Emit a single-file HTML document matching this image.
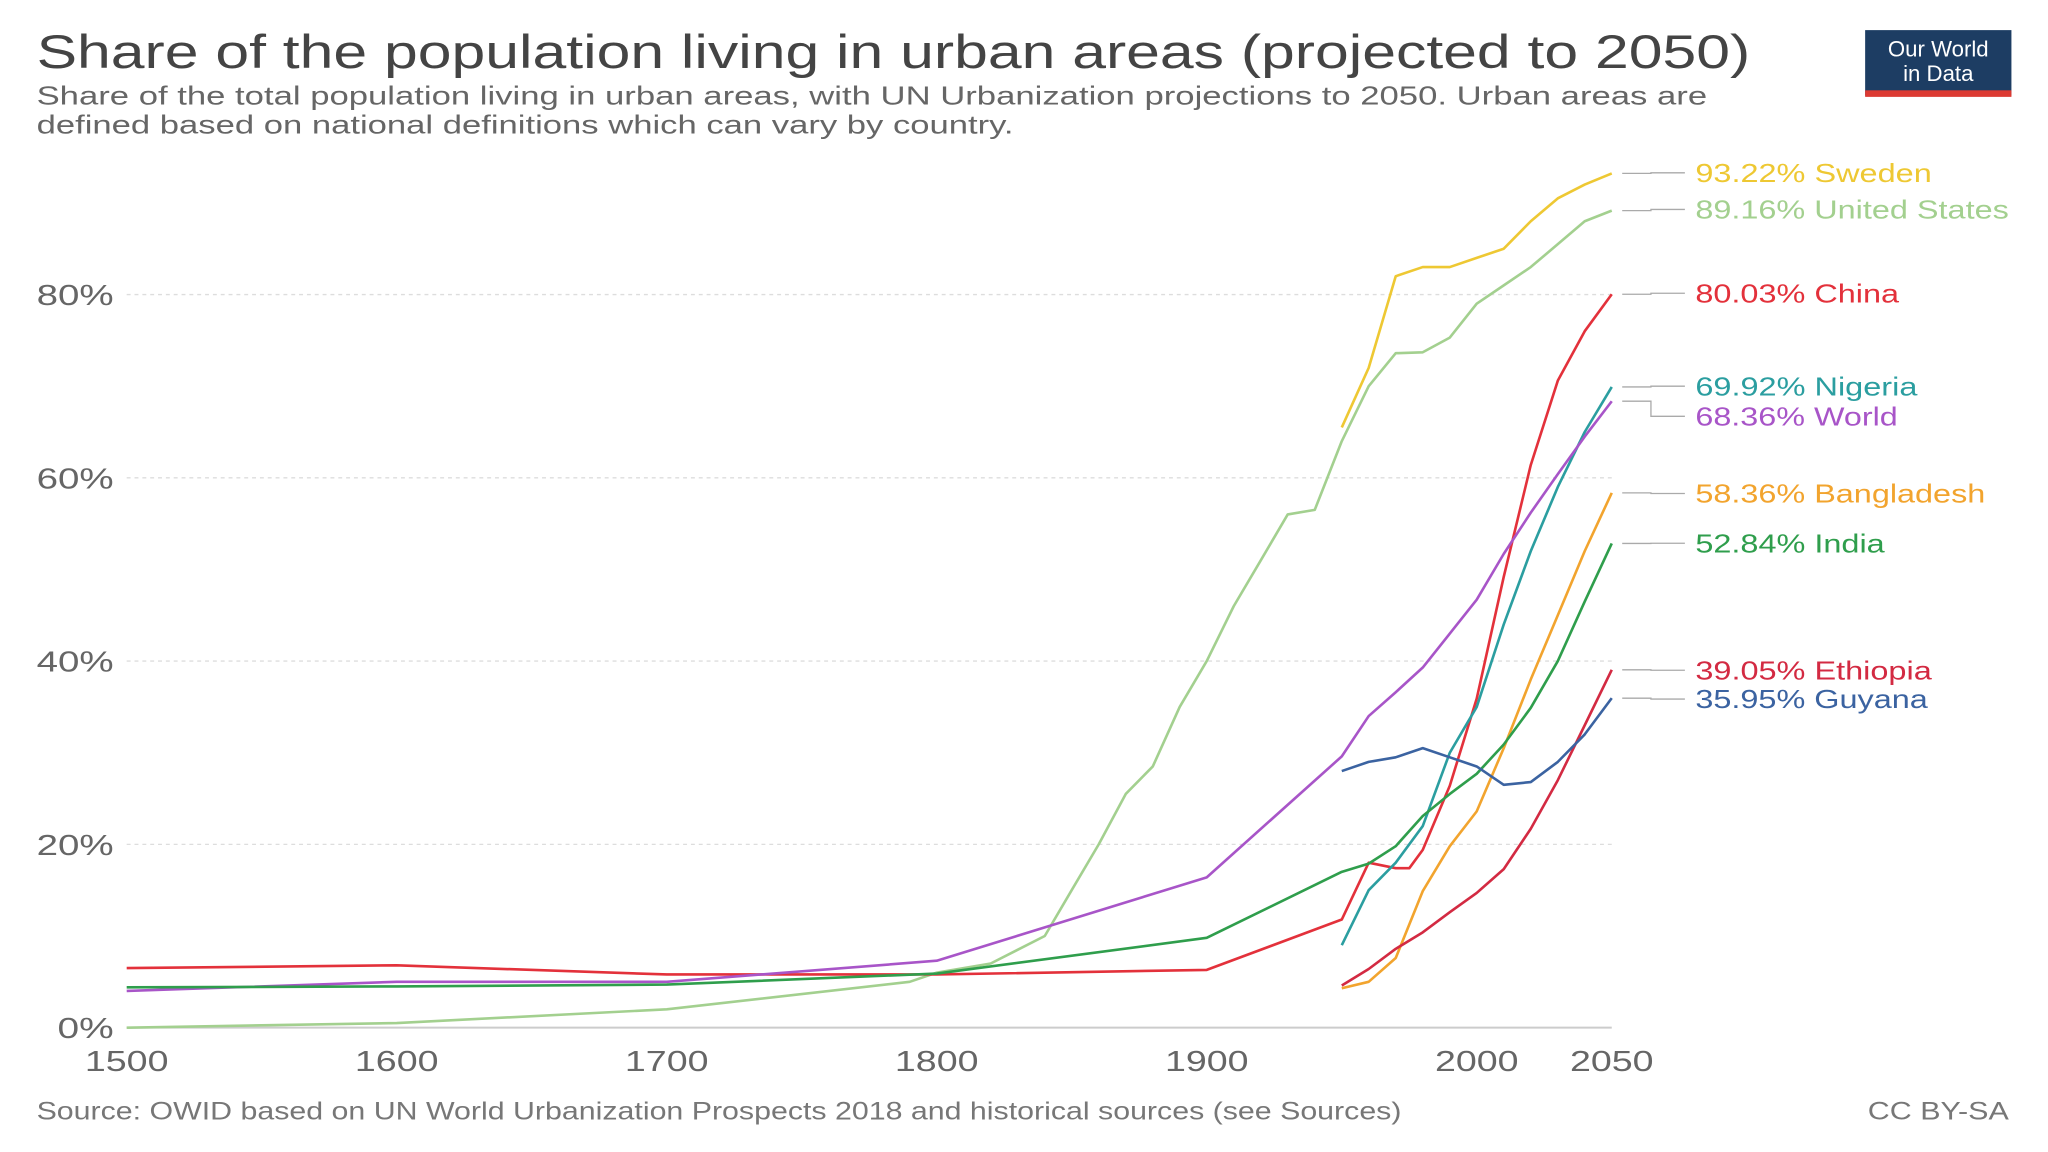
<!DOCTYPE html>
<html><head><meta charset="utf-8"><style>
html,body{margin:0;padding:0;background:#fff;}
svg{display:block;font-family:"Liberation Sans",sans-serif;}
</style></head><body>
<svg id="chart" width="2048" height="1152" viewBox="0 0 1568 880" preserveAspectRatio="none" xmlns="http://www.w3.org/2000/svg">
<rect width="1568" height="880" fill="#fff"/>
<text x="28" y="52" font-size="36" fill="#444" textLength="1312" lengthAdjust="spacingAndGlyphs">Share of the population living in urban areas (projected to 2050)</text>
<text x="28" y="80" font-size="20" fill="#666" textLength="1279" lengthAdjust="spacingAndGlyphs">Share of the total population living in urban areas, with UN Urbanization projections to 2050. Urban areas are</text>
<text x="28" y="102" font-size="20" fill="#666" textLength="748" lengthAdjust="spacingAndGlyphs">defined based on national definitions which can vary by country.</text>
<g>
<rect x="1428" y="23" width="112" height="50" fill="#1d3d63"/>
<rect x="1428" y="69" width="112" height="5" fill="#dc3a33"/>
<text x="1484" y="43" font-size="17" fill="#fff" text-anchor="middle">Our World</text>
<text x="1484" y="62" font-size="17" fill="#fff" text-anchor="middle">in Data</text>
</g>
<g id="grid"></g><g id="axes"></g><g id="series"></g><g id="labels"></g>
<text x="28" y="855" font-size="19" fill="#777" textLength="1045" lengthAdjust="spacingAndGlyphs">Source: OWID based on UN World Urbanization Prospects 2018 and historical sources (see Sources)</text>
<text x="1430" y="855" font-size="19" fill="#777" textLength="108" lengthAdjust="spacingAndGlyphs">CC BY-SA</text>
</svg>
<script>
const yTicks=[0,20,40,60,80];
const xTicks=[1500,1600,1700,1800,1900,2000,2050];
const names=["Sweden","United States","China","Nigeria","World","Bangladesh","India","Ethiopia","Guyana"];
const colors=["#eec833","#a3d08f","#e3313b","#2b9ea0","#a855c8","#f2a42e","#2f9e4c","#d32a42","#3b63a1"];
const labelY=[132,160,224,295,318,377,415,512,534];
const labelW=[181,240,156,170,155,222,145,181,178];
const swedenYears=[1950,1960,1970,1980,1990,2000,2010,2020,2030,2040,2050];
const swedenVals=[65.5,72,82,83,83,84,85,88,90.5,92,93.22];
const usYears=[1500,1600,1700,1790,1800,1820,1840,1850,1860,1870,1880,1890,1900,1910,1920,1930,1940,1950,1960,1970,1980,1990,2000,2010,2020,2030,2040,2050];
const usVals=[0,0.5,2,5,6,7,10,15,20,25.5,28.5,35,40,46,51,56,56.5,64,70,73.6,73.7,75.3,79,81,83,85.5,88,89.16];
const chinaYears=[1500,1600,1700,1800,1900,1950,1960,1970,1975,1980,1990,2000,2010,2020,2030,2040,2050];
const chinaVals=[6.5,6.8,5.8,5.8,6.3,11.8,18,17.4,17.4,19.4,26.4,35.9,49.2,61.4,70.6,76,80.03];
const nigeriaYears=[1950,1960,1970,1980,1990,2000,2010,2020,2030,2040,2050];
const nigeriaVals=[9,15,18,22,30,35,44,52,59,65,69.92];
const worldYears=[1500,1600,1700,1800,1900,1950,1960,1970,1980,1990,2000,2010,2020,2030,2040,2050];
const worldVals=[4,5,5,7.3,16.4,29.6,34,36.6,39.3,43,46.7,51.7,56.2,60.4,64.5,68.36];
const bangYears=[1950,1960,1970,1980,1990,2000,2010,2020,2030,2040,2050];
const bangVals=[4.3,5,7.6,14.9,19.8,23.6,30.5,38,45,52,58.36];
const indiaYears=[1500,1600,1700,1800,1900,1950,1960,1970,1980,1990,2000,2010,2020,2030,2040,2050];
const indiaVals=[4.4,4.5,4.7,5.9,9.8,17,17.9,19.8,23.1,25.5,27.7,30.9,34.9,40,46.5,52.84];
const ethYears=[1950,1960,1970,1980,1990,2000,2010,2020,2030,2040,2050];
const ethVals=[4.6,6.4,8.6,10.4,12.6,14.7,17.3,21.7,27,33,39.05];
const guyYears=[1950,1960,1970,1980,1990,2000,2010,2020,2030,2040,2050];
const guyVals=[28,29,29.5,30.5,29.5,28.5,26.5,26.8,29,32,35.95];
const allYears=[swedenYears,usYears,chinaYears,nigeriaYears,worldYears,bangYears,indiaYears,ethYears,guyYears];
const allVals=[swedenVals,usVals,chinaVals,nigeriaVals,worldVals,bangVals,indiaVals,ethVals,guyVals];

const NS="http://www.w3.org/2000/svg";
const X=y=>97+(y-1500)*(1234-97)/550;
const Y=v=>785-v*7;
function mk(tag,attrs,parent){const e=document.createElementNS(NS,tag);for(const k in attrs)e.setAttribute(k,attrs[k]);parent.appendChild(e);return e;}
const grid=document.getElementById('grid'),axes=document.getElementById('axes'),series=document.getElementById('series'),labels=document.getElementById('labels');
yTicks.forEach(t=>{
  if(t>0){const l=mk('line',{x1:97,x2:1234,y1:Y(t),y2:Y(t),stroke:'#ddd','stroke-dasharray':'3,3'},grid);
  
  }
  const w=t===0?43:59;
  const tx=mk('text',{x:87-w,y:Y(t)+8,'font-size':22,fill:'#666',textLength:w,lengthAdjust:'spacingAndGlyphs'},axes);tx.textContent=t+'%';
  
  
});
const ax=mk('line',{x1:97,x2:1234,y1:Y(0),y2:Y(0),stroke:'#ccc','stroke-width':1.5},axes);


xTicks.forEach(t=>{
  const tx=mk('text',{x:X(t)-32,y:818,'font-size':22,fill:'#666',textLength:64,lengthAdjust:'spacingAndGlyphs'},axes);tx.textContent=t;
  
  
});
names.forEach((n,i)=>{
  const ys=allYears[i],vs=allVals[i];
  const d=ys.map((y,j)=>(j?'L':'M')+X(y).toFixed(1)+','+Y(vs[j]).toFixed(1)).join(' ');
  const p=mk('path',{d:d,fill:'none',stroke:colors[i],'stroke-width':2,'stroke-linejoin':'round'},series);
  
  
  const last=vs[vs.length-1],ly=labelY[i],ey=Y(last);
  const c=mk('path',{d:`M1242,${ey} L1264,${ey} L1264,${ly} L1290,${ly}`,fill:'none',stroke:'#aaa','stroke-width':1},labels);
  
  
  const t=mk('text',{x:1298,y:ly+7,'font-size':20,fill:colors[i],textLength:labelW[i],lengthAdjust:'spacingAndGlyphs'},labels);
  t.textContent=last.toFixed(2)+'% '+n;
  
  
});
</script>
</body></html>
